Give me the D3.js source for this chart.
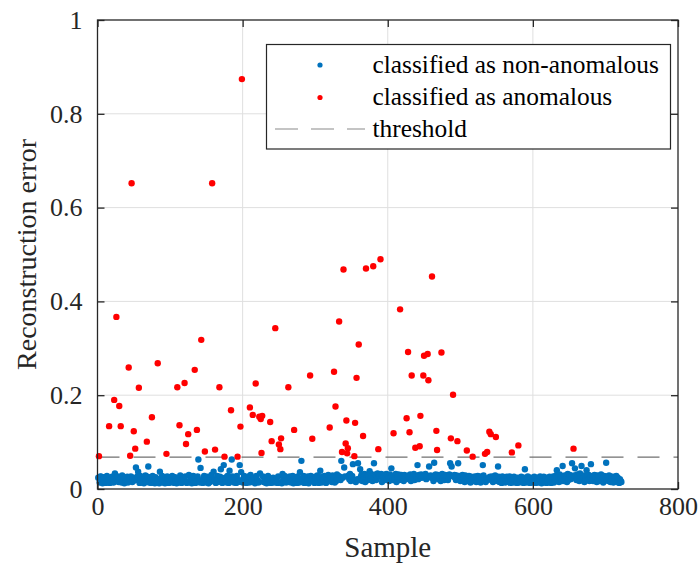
<!DOCTYPE html>
<html>
<head>
<meta charset="utf-8">
<script src="https://cdn.jsdelivr.net/npm/d3@7"></script>
<style>
  body { margin: 0; background: #ffffff; }
</style>
</head>
<body>
<svg id="chart" width="699" height="566"></svg>
<script>
// Axis ticks
const xTicks = [0, 200, 400, 600, 800];
const yTicks = [0, 0.2, 0.4, 0.6, 0.8, 1];
const yTickLabels = ["0", "0.2", "0.4", "0.6", "0.8", "1"];

// Decision threshold on the reconstruction error
const threshold = 0.068;

// Reconstruction error per sample (samples 1..722), in thousandths
const sampleErrMilli = [
  24,19,14,27,26,16,12,21,25,15,13,22,28,14,18,24,13,20,15,26,
  19,14,23,33,17,12,22,27,15,13,20,26,14,29,17,21,12,24,16,19,
  26,14,18,22,13,27,19,15,24,12,18,14,46,21,27,37,15,13,28,19,
  14,25,18,12,22,29,15,20,26,48,14,17,24,13,21,28,15,19,12,25,
  18,13,27,21,12,37,20,15,28,14,24,17,12,22,15,27,19,13,25,17,
  14,22,28,15,19,13,25,17,12,27,21,14,19,29,15,13,24,17,22,14,
  27,19,13,15,24,30,17,14,22,12,19,28,15,24,13,18,22,27,63,19,
  14,45,25,17,13,22,28,15,19,14,26,17,12,24,15,22,30,14,19,37,
  17,25,13,22,28,15,20,14,26,42,17,13,22,51,15,24,19,14,28,17,
  13,39,22,15,63,27,19,14,24,17,13,28,21,15,19,51,25,36,17,14,
  22,28,15,19,13,25,17,27,14,21,30,15,19,13,24,17,12,22,28,15,
  19,14,25,33,17,13,22,27,15,19,14,24,12,17,28,21,15,19,13,26,
  17,24,14,19,28,15,22,13,27,17,14,24,19,12,32,21,15,28,17,14,
  24,19,13,15,27,21,14,17,28,12,19,25,15,22,13,27,17,14,36,19,
  60,15,22,28,13,17,24,14,19,27,12,21,15,28,17,14,24,19,13,26,
  21,15,29,17,13,24,39,19,14,26,17,21,28,15,13,25,19,30,17,14,
  26,21,15,29,19,27,14,24,17,31,21,28,15,26,19,60,30,24,17,46,
  27,19,31,15,24,29,21,32,17,26,28,53,19,30,24,15,27,21,55,29,
  19,42,26,31,17,28,21,32,15,27,24,30,19,29,38,21,32,26,17,28,
  55,24,31,19,27,33,17,29,26,21,32,15,28,24,30,19,27,32,21,29,
  26,17,31,24,44,28,19,30,27,21,32,15,29,26,31,19,27,24,30,21,
  28,17,30,26,21,32,27,19,29,24,31,17,28,26,21,32,19,29,27,24,
  51,21,30,27,19,31,24,28,17,29,26,32,21,27,30,19,48,26,29,24,
  21,28,17,56,27,31,19,26,30,21,29,24,17,28,32,21,27,19,30,26,
  24,29,19,27,31,55,21,48,28,17,26,30,24,19,29,27,55,21,28,17,
  27,24,30,19,26,15,29,21,27,17,24,28,19,14,26,21,29,17,24,27,
  19,15,26,28,21,17,27,14,24,19,51,29,17,26,15,21,28,19,24,14,
  26,17,21,27,15,24,19,29,14,21,17,48,26,15,24,19,13,27,21,17,
  24,14,19,26,17,21,15,27,13,19,24,17,14,26,21,15,19,13,24,17,
  14,21,17,26,15,19,13,24,42,17,14,21,27,15,19,13,24,17,21,14,
  19,26,15,13,21,17,24,14,19,27,15,12,21,17,26,14,19,24,13,17,
  21,15,26,19,13,24,17,27,14,21,17,29,40,19,26,15,31,21,28,17,
  49,24,17,29,21,27,15,32,19,26,30,21,28,55,24,17,29,44,26,19,
  31,21,27,17,33,26,49,19,29,24,15,28,21,40,27,19,30,17,26,53,
  21,28,17,26,30,19,24,15,29,21,27,17,26,31,19,24,14,28,21,27,
  56,19,26,17,29,21,15,27,24,19,14,26,21,17,28,15,24,19,13,21,
  17,15
];

// Samples whose error exceeds the threshold, with their error
const anomalySamples = [
  2,16,23,26,30,32,43,45,47,50,52,57,68,75,83,95,110,113,120,122,
  125,134,137,143,148,158,162,168,175,184,193,197,199,210,214,218,223,225,226,227,
  238,240,245,250,252,253,263,271,293,296,320,326,328,333,337,339,342,343,344,345,
  354,355,357,360,366,370,380,387,390,408,417,426,428,430,433,438,444,445,449,450,
  455,456,461,467,468,474,487,490,496,509,517,534,537,540,542,549,571,580,656
];
const anomalyErrors = [
  0.070,0.134,0.190,0.367,0.177,0.134,0.259,0.071,0.652,0.123,0.086,0.216,0.101,0.153,0.268,0.075,0.217,0.136,0.226,0.096,
  0.117,0.254,0.126,0.318,0.080,0.652,0.084,0.217,0.069,0.168,0.069,0.133,0.874,0.174,0.158,0.225,0.154,0.149,0.077,0.156,
  0.143,0.102,0.343,0.095,0.085,0.108,0.217,0.126,0.242,0.107,0.131,0.250,0.176,0.357,0.079,0.468,0.097,0.146,0.076,0.087,
  0.070,0.141,0.237,0.308,0.113,0.470,0.475,0.085,0.490,0.119,0.383,0.151,0.292,0.121,0.242,0.088,0.091,0.156,0.242,0.284,
  0.288,0.232,0.453,0.124,0.083,0.291,0.108,0.201,0.102,0.082,0.069,0.075,0.079,0.122,0.117,0.111,0.078,0.093,0.086
];

const legendLabels = ["classified as non-anomalous", "classified as anomalous", "threshold"];
const blue = "#0072BD", red = "#FF0000", axisColor = "#262626";

const svg = d3.select("#chart");
const plot = { left: 97.5, right: 678, top: 20, bottom: 489 };

const x = d3.scaleLinear().domain([0, 800]).range([plot.left, plot.right]);
const y = d3.scaleLinear().domain([0, 1]).range([plot.bottom, plot.top]);

// Layers: grid and threshold at the back, points, then frame, axes and legend
const gridLayer = svg.append("g");
const pointLayer = svg.append("g");
const frameLayer = svg.append("g");

// Axis labels
frameLayer.append("text")
  .attr("x", (plot.left + plot.right) / 2).attr("y", 557)
  .attr("text-anchor", "middle").attr("fill", axisColor)
  .style("font-family", "Liberation Serif").style("font-size", "29px").text("Sample");
frameLayer.append("text")
  .attr("transform", `translate(36,${(plot.top + plot.bottom) / 2}) rotate(-90)`)
  .attr("text-anchor", "middle").attr("fill", axisColor)
  .style("font-family", "Liberation Serif").style("font-size", "28px").text("Reconstruction error");

// Grid
gridLayer.attr("stroke", "#dfdfdf").attr("stroke-width", 1);
xTicks.slice(1, -1).forEach(t => gridLayer.append("line")
  .attr("x1", x(t)).attr("x2", x(t)).attr("y1", plot.top).attr("y2", plot.bottom));
yTicks.slice(1, -1).forEach(t => gridLayer.append("line")
  .attr("x1", plot.left).attr("x2", plot.right).attr("y1", y(t)).attr("y2", y(t)));

// Threshold
svg.insert("line", () => pointLayer.node())
  .attr("x1", plot.left).attr("x2", plot.right)
  .attr("y1", y(threshold)).attr("y2", y(threshold))
  .attr("stroke", "#707070").attr("stroke-width", 1.2)
  .attr("stroke-dasharray", "22,14");

// Axes with inward ticks on all sides
const tickLen = 7;
const xAxis = frameLayer.append("g").attr("transform", `translate(0,${plot.bottom})`)
  .call(d3.axisBottom(x).tickValues(xTicks).tickSizeInner(-tickLen).tickSizeOuter(0).tickPadding(8));
const yAxis = frameLayer.append("g").attr("transform", `translate(${plot.left},0)`)
  .call(d3.axisLeft(y).tickValues(yTicks).tickFormat((d, i) => yTickLabels[i])
    .tickSizeInner(-tickLen).tickSizeOuter(0).tickPadding(15));
const xTop = frameLayer.append("g").attr("transform", `translate(0,${plot.top})`)
  .call(d3.axisTop(x).tickValues(xTicks).tickSizeInner(-tickLen).tickSizeOuter(0).tickFormat(""));
const yRight = frameLayer.append("g").attr("transform", `translate(${plot.right},0)`)
  .call(d3.axisRight(y).tickValues(yTicks).tickSizeInner(-tickLen).tickSizeOuter(0).tickFormat(""));
[xAxis, yAxis, xTop, yRight].forEach(g => {
  g.select(".domain").remove();
  g.selectAll(".tick line").attr("stroke", axisColor).attr("stroke-width", 1.3);
  g.selectAll(".tick text").attr("fill", axisColor)
    .attr("font-family", "Liberation Serif").style("font-size", "26px");
});
frameLayer.append("rect")
  .attr("x", plot.left).attr("y", plot.top)
  .attr("width", plot.right - plot.left).attr("height", plot.bottom - plot.top)
  .attr("fill", "none").attr("stroke", axisColor).attr("stroke-width", 1.3);

// Legend
const legend = frameLayer.append("g");
legend.append("rect")
  .attr("x", 266.5).attr("y", 44.5).attr("width", 404).attr("height", 104.5)
  .attr("fill", "#ffffff").attr("stroke", axisColor).attr("stroke-width", 1.2);
const rowY = [65, 97.5, 129];
legend.append("circle").attr("cx", 320).attr("cy", rowY[0]).attr("r", 2.6).attr("fill", blue);
legend.append("circle").attr("cx", 320).attr("cy", rowY[1]).attr("r", 2.6).attr("fill", red);
legend.append("line")
  .attr("x1", 275).attr("x2", 365).attr("y1", rowY[2]).attr("y2", rowY[2])
  .attr("stroke", "#8a8a8a").attr("stroke-width", 1.2).attr("stroke-dasharray", "23,13");
legendLabels.forEach((t, i) => legend.append("text")
  .attr("x", 372.5).attr("y", rowY[i]).attr("dy", "0.3em")
  .style("font-family", "Liberation Serif").style("font-size", "25.4px").text(t));

// Points
const anomalySet = new Set(anomalySamples);
const normalPts = sampleErrMilli
  .map((v, i) => ({ s: i + 1, e: v / 1000 }))
  .filter(d => !anomalySet.has(d.s));
const anomalyPts = anomalySamples.map((s, i) => ({ s, e: anomalyErrors[i] }));

pointLayer.append("g").selectAll("circle").data(normalPts).join("circle")
  .attr("cx", d => x(d.s)).attr("cy", d => y(d.e)).attr("r", 3.2).attr("fill", blue);
pointLayer.append("g").selectAll("circle").data(anomalyPts).join("circle")
  .attr("cx", d => x(d.s)).attr("cy", d => y(d.e)).attr("r", 3.2).attr("fill", red);
</script>
</body>
</html>
